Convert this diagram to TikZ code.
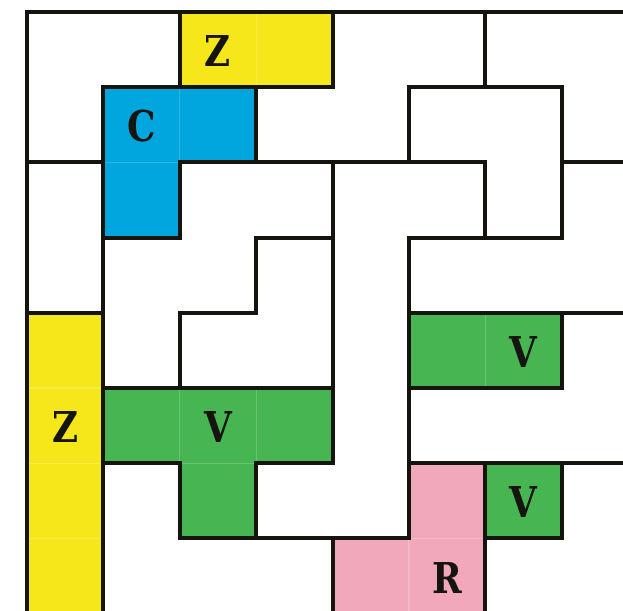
\documentclass[tikz,border=0pt]{standalone}
\usepackage{fontspec}
\newfontfamily\labelfont{DejaVu Serif}
\definecolor{pyellow}{HTML}{F5E71A}
\definecolor{pblue}{HTML}{00A6DD}
\definecolor{pgreen}{HTML}{46B552}
\definecolor{ppink}{HTML}{F1A8BA}
\definecolor{linecol}{HTML}{15140F}
\newcommand{\piecelabel}[1]{\scalebox{0.84}[1]{#1}}
\begin{document}
\begin{tikzpicture}[x=30.56pt,y=-30.08pt,
  wall/.style={line width=1.6pt, draw=linecol, line cap=rect},
  seam/.style={line width=0.5pt, draw=white, opacity=0.18},
  lab/.style={font=\labelfont\bfseries\fontsize{17}{17}\selectfont, text=linecol, inner sep=0pt}]
\useasboundingbox (-0.3534,-0.1596) rectangle (7.801,7.965);
\clip (-0.3534,-0.1596) rectangle (7.801,7.965);
\fill[white] (-0.3534,-0.1596) rectangle (7.801,7.965);
% fills
\fill[pyellow] (2,0) rectangle (4,1);
\fill[pyellow] (0,4) rectangle (1,8.5);
\fill[pblue] (1,1) rectangle (3,2);
\fill[pblue] (1,2) rectangle (2,3);
\fill[pgreen] (5,4) rectangle (7,5);
\fill[pgreen] (1,5) rectangle (4,6);
\fill[pgreen] (2,6) rectangle (3,7);
\fill[pgreen] (6,6) rectangle (7,7);
\fill[ppink] (5,6) rectangle (6,8.5);
\fill[ppink] (4,7) rectangle (5,8.5);
% faint seams inside pieces
\draw[seam] (3,0) -- (3,1);
\draw[seam] (0,5) -- (1,5) (0,6) -- (1,6) (0,7) -- (1,7);
\draw[seam] (2,1) -- (2,2) (1,2) -- (2,2);
\draw[seam] (6,4) -- (6,5);
\draw[seam] (2,5) -- (2,6) (3,5) -- (3,6) (2,6) -- (3,6);
\draw[seam] (5,7) -- (6,7) (5,7) -- (5,8.5);
% horizontal walls
\draw[wall] (0,0) -- (8.5,0);
\draw[wall] (1,1) -- (4,1) (5,1) -- (7,1);
\draw[wall] (0,2) -- (1,2) (2,2) -- (6,2) (7,2) -- (8.5,2);
\draw[wall] (1,3) -- (2,3) (3,3) -- (4,3) (5,3) -- (7,3);
\draw[wall] (0,4) -- (1,4) (2,4) -- (3,4) (5,4) -- (8.5,4);
\draw[wall] (1,5) -- (4,5) (5,5) -- (7,5);
\draw[wall] (1,6) -- (2,6) (3,6) -- (4,6) (5,6) -- (8.5,6);
\draw[wall] (2,7) -- (5,7) (6,7) -- (7,7);
% vertical walls
\draw[wall] (0,0) -- (0,8.5);
\draw[wall] (1,1) -- (1,8.5);
\draw[wall] (2,0) -- (2,1) (2,2) -- (2,3) (2,4) -- (2,5) (2,6) -- (2,7);
\draw[wall] (3,1) -- (3,2) (3,3) -- (3,4) (3,6) -- (3,7);
\draw[wall] (4,0) -- (4,1) (4,2) -- (4,6) (4,7) -- (4,8.5);
\draw[wall] (5,1) -- (5,2) (5,3) -- (5,7);
\draw[wall] (6,0) -- (6,1) (6,2) -- (6,3) (6,6) -- (6,8.5);
\draw[wall] (7,1) -- (7,3) (7,4) -- (7,5) (7,6) -- (7,7);
% labels
\node[lab] (z1) at (2.5,0.52) {\piecelabel{Z}};
\node[lab] (c1) at (1.5,1.52) {\piecelabel{C}};
\node[lab] (v1) at (6.5,4.52) {\piecelabel{V}};
\node[lab] (z2) at (0.5,5.52) {\piecelabel{Z}};
\node[lab] (v2) at (2.5,5.52) {\piecelabel{V}};
\node[lab] (v3) at (6.5,6.52) {\piecelabel{V}};
\node[lab] (r1) at (5.5,7.52) {\piecelabel{R}};
\end{tikzpicture}
\end{document}
